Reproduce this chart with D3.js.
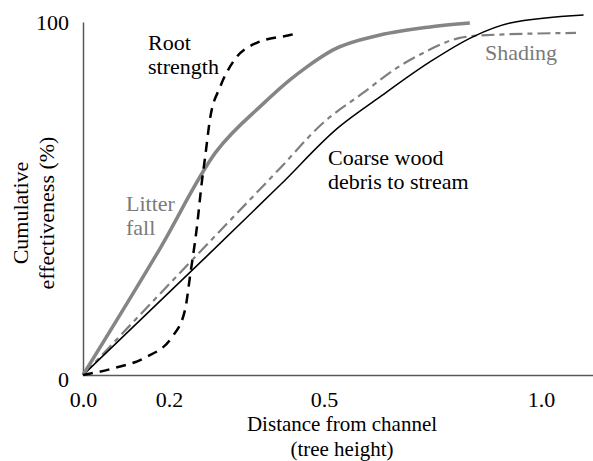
<!DOCTYPE html>
<html>
<head>
<meta charset="utf-8">
<script src="https://cdn.jsdelivr.net/npm/d3@7"></script>
<style>
  body { margin: 0; background: #fff; }
  text { font-family: "Liberation Serif", "Times New Roman", serif; }
</style>
</head>
<body>
<svg id="canvas" width="593" height="461"></svg>
<script>
(function () {
    // distance from channel (tree heights) vs cumulative effectiveness (%)
    var litterX = [0, 0.177, 0.291, 0.382, 0.434, 0.467, 0.521, 0.629, 0.744, 0.836];
    var litterY = [0, 35.4, 63.2, 76.8, 83.6, 87.3, 92.1, 96.3, 98.6, 99.7];

    var woodX = [0, 0.245, 0.415, 0.532, 0.629, 0.744, 0.843, 0.929, 1.09];
    var woodY = [0, 29.7, 53.8, 70.0, 78.8, 88.7, 95.8, 99.7, 102.0];

    var shadeX = [0, 0.245, 0.415, 0.498, 0.590, 0.668, 0.733, 0.813, 0.876, 1.074];
    var shadeY = [0, 32.6, 58.6, 71.4, 79.9, 87.0, 91.5, 95.5, 96.3, 96.9];

    var rootX = [0, 0.074, 0.142, 0.206, 0.231, 0.241, 0.254, 0.264, 0.270, 0.279, 0.299, 0.324, 0.370, 0.434, 0.450];
    var rootY = [0, 2.0, 4.8, 10.8, 18.4, 28.3, 41.9, 55.2, 61.8, 72.2, 81.6, 88.7, 94.1, 96.3, 96.9];

    var xTicks = [0, 0.2, 0.5, 1.0];
    var yTicks = [0, 100];

    const svg = d3.select("#canvas");

    // tick labels in the original are not evenly spaced, so piecewise scale
    var x = d3.scaleLinear()
        .domain([0, 0.2, 0.5, 1.0, 1.11])
        .range([83, 169, 324, 541, 593]);

    var y = d3.scaleLinear()
        .domain([0, 100])
        .range([375, 22]);

    var zip = (xs, ys) => xs.map((v, i) => [v, ys[i]]);

    var line = d3.line()
        .x(d => x(d[0]))
        .y(d => y(d[1]))
        .curve(d3.curveMonotoneX);

    // axes
    svg.append("g")
        .attr("transform", "translate(0," + y(0) + ")")
        .call(d3.axisBottom(x).tickValues(xTicks).tickFormat(d3.format(".1f")).tickSize(0).tickPadding(16))
        .call(g => g.select(".domain").attr("stroke", "#595959").attr("stroke-width", 1.5))
        .selectAll("text")
        .attr("fill", "#000")
        .style("font-size", "22px")
        .style("font-family", "Liberation Serif, serif");

    svg.append("g")
        .attr("transform", "translate(" + x(0) + ",0)")
        .call(d3.axisLeft(y).tickValues(yTicks).tickSize(0).tickPadding(14))
        .call(g => g.select(".domain").attr("stroke", "#595959").attr("stroke-width", 1.5))
        .selectAll("text")
        .attr("fill", "#000")
        .attr("dy", d => d === 0 ? "0.5em" : "0.32em")
        .style("font-size", "22px")
        .style("font-family", "Liberation Serif, serif");

    // curves
    svg.append("path").datum(zip(shadeX, shadeY))
        .attr("d", line).attr("fill", "none")
        .attr("stroke", "#7f7f7f").attr("stroke-width", 2.2)
        .attr("stroke-dasharray", "13,5,5,5");

    svg.append("path").datum(zip(woodX, woodY))
        .attr("d", line).attr("fill", "none")
        .attr("stroke", "#000").attr("stroke-width", 1.5);

    svg.append("path").datum(zip(litterX, litterY))
        .attr("d", line).attr("fill", "none")
        .attr("stroke", "#858585").attr("stroke-width", 3.5);

    svg.append("path").datum(zip(rootX, rootY))
        .attr("d", line).attr("fill", "none")
        .attr("stroke", "#000").attr("stroke-width", 2.5)
        .attr("stroke-dasharray", "10,7");

    // labels
    function label(lines, px, py, color) {
        var t = svg.append("text").attr("x", px).attr("y", py)
            .attr("fill", color).style("font-size", "22px");
        lines.forEach((s, i) => t.append("tspan").attr("x", px).attr("dy", i ? 24 : 0).text(s));
    }
    label(["Root", "strength"], 148, 50, "#000");
    label(["Litter", "fall"], 126, 211, "#7a7a7a");
    label(["Coarse wood", "debris to stream"], 328, 165, "#000");
    label(["Shading"], 485, 60, "#7a7a7a");

    // axis titles
    svg.append("text")
        .attr("x", 342).attr("y", 431)
        .attr("text-anchor", "middle")
        .style("font-size", "21px")
        .text("Distance from channel");
    svg.append("text")
        .attr("x", 342).attr("y", 456)
        .attr("text-anchor", "middle")
        .style("font-size", "21px")
        .text("(tree height)");

    var yt = svg.append("text")
        .attr("transform", "translate(0,213) rotate(-90)")
        .attr("text-anchor", "middle")
        .style("font-size", "22px");
    yt.append("tspan").attr("x", 0).attr("y", 28).text("Cumulative");
    yt.append("tspan").attr("x", 0).attr("y", 54).text("effectiveness (%)");
})();
</script>
</body>
</html>
